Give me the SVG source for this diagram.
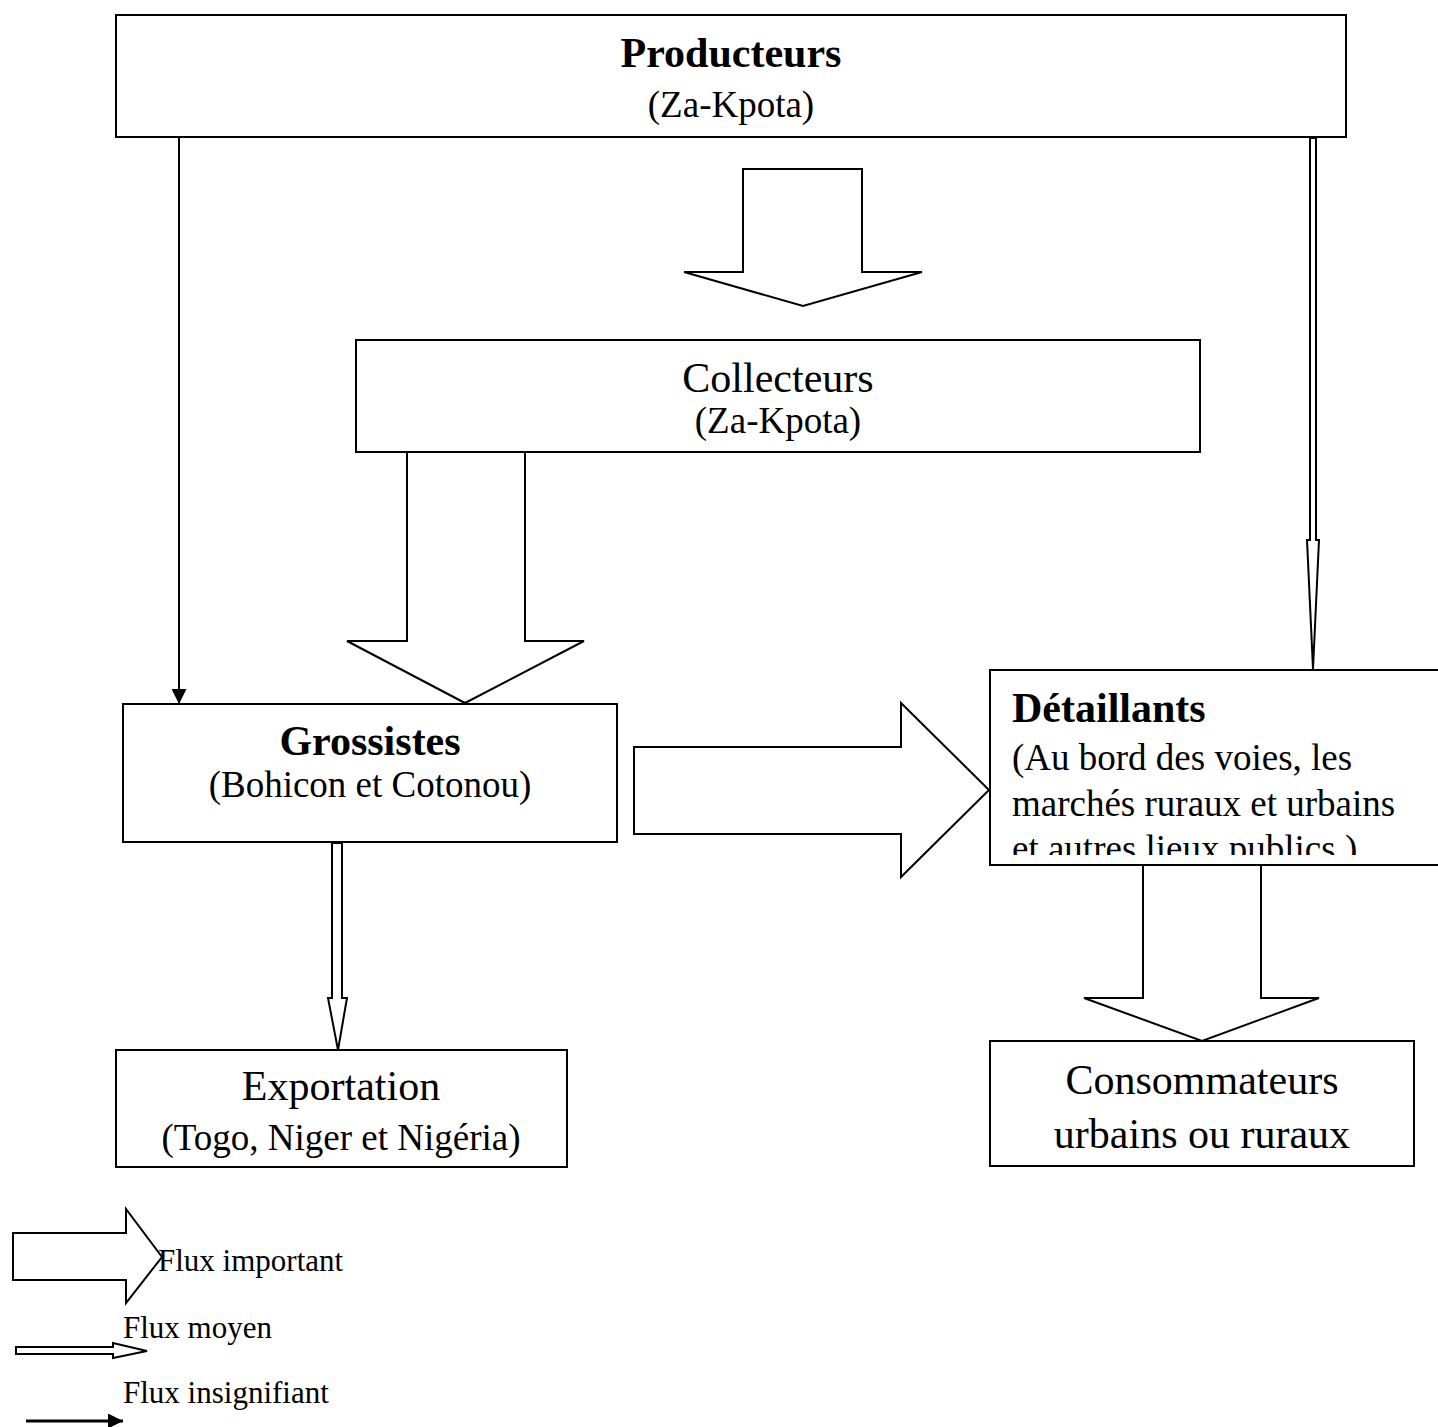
<svg xmlns="http://www.w3.org/2000/svg" width="1438" height="1427" viewBox="0 0 1438 1427">
<style>
.box{fill:#fff;stroke:#000;stroke-width:2}
.arr{fill:#fff;stroke:#000;stroke-width:2;stroke-linejoin:miter}
.t{font-family:"Liberation Serif","Times New Roman",serif;fill:#000}
.title{font-size:42px}
.b{font-weight:bold}
.sub{font-size:37px}
.leg{font-size:31px}
.m{text-anchor:middle}
</style>
<defs>
<marker id="thin" viewBox="0 0 10 10" refX="10" refY="5" markerWidth="15" markerHeight="15" markerUnits="userSpaceOnUse" orient="auto">
<path d="M0,0 L10,5 L0,10 Z" fill="#000"/>
</marker>
<clipPath id="detclip"><rect x="990" y="670" width="448" height="185"/></clipPath>
</defs>
<rect width="1438" height="1427" fill="#fff"/>

<g id="connectors">
<line x1="179" y1="138" x2="179" y2="704" stroke="#000" stroke-width="2" marker-end="url(#thin)"/>
<polygon class="arr" points="743,169 862,169 862,272 922,272 803,306 684,272 743,272"/>
<polygon class="arr" points="407,452 525,452 525,641 584,641 465,703 347,641 407,641"/>
<polygon class="arr" points="634,747 901,747 901,703 989,790 901,877 901,834 634,834"/>
<polygon class="arr" points="1310,138 1316,138 1316,540 1319,540 1313,669 1307,540 1310,540"/>
<polygon class="arr" points="332,843 342,843 342,998 347,998 338,1050 328,998 332,998"/>
<polygon class="arr" points="1143,865 1261,865 1261,998 1319,998 1202,1041 1084,998 1143,998"/>
</g>

<g id="producteurs">
<rect class="box" x="116" y="15" width="1230" height="122"/>
<text class="t title b m" x="731" y="67">Producteurs</text>
<text class="t sub m" x="731" y="117">(Za-Kpota)</text>
</g>

<g id="collecteurs">
<rect class="box" x="356" y="340" width="844" height="112"/>
<text class="t title m" x="778" y="392">Collecteurs</text>
<text class="t sub m" x="778" y="433">(Za-Kpota)</text>
</g>

<g id="grossistes">
<rect class="box" x="123" y="704" width="494" height="138"/>
<text class="t title b m" x="370" y="755">Grossistes</text>
<text class="t sub m" x="370" y="797">(Bohicon et Cotonou)</text>
</g>

<g id="detaillants">
<rect class="box" x="990" y="670" width="460" height="195"/>
<g clip-path="url(#detclip)">
<text class="t title b" x="1012" y="722">Détaillants</text>
<text class="t sub" x="1012" y="770">(Au bord des voies, les</text>
<text class="t sub" x="1012" y="816">marchés ruraux et urbains</text>
<text class="t sub" x="1012" y="861">et autres lieux publics.)</text>
</g>
</g>

<g id="exportation">
<rect class="box" x="116" y="1050" width="451" height="117"/>
<text class="t title m" x="341" y="1100">Exportation</text>
<text class="t sub m" x="341" y="1150">(Togo, Niger et Nigéria)</text>
</g>

<g id="consommateurs">
<rect class="box" x="990" y="1041" width="424" height="125"/>
<text class="t title m" x="1202" y="1094">Consommateurs</text>
<text class="t title m" x="1202" y="1148">urbains ou ruraux</text>
</g>

<g id="legend">
<polygon class="arr" points="13,1233 126,1233 126,1209 162,1257 126,1303 126,1280 13,1280"/>
<text class="t leg" x="158" y="1271">Flux important</text>
<text class="t leg" x="123" y="1338">Flux moyen</text>
<polygon class="arr" points="16,1347 113,1347 113,1343 147,1351 113,1358 113,1354 16,1354"/>
<text class="t leg" x="123" y="1403">Flux insignifiant</text>
<line x1="26" y1="1421" x2="123" y2="1421" stroke="#000" stroke-width="3" marker-end="url(#thin)"/>
</g>
</svg>
